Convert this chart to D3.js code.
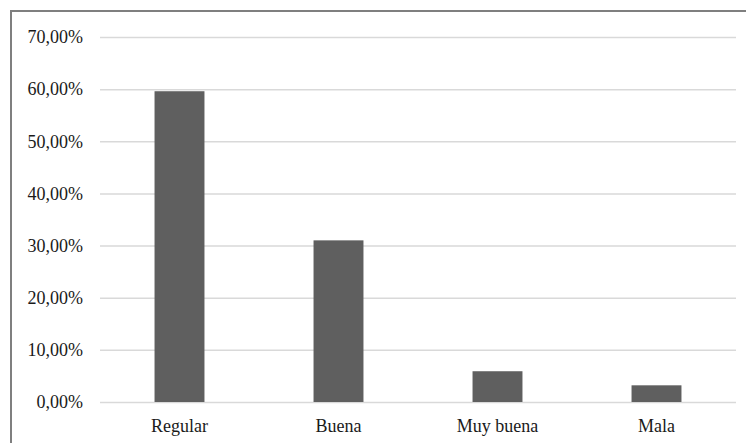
<!DOCTYPE html>
<html><head><meta charset="utf-8">
<script src="https://cdn.jsdelivr.net/npm/d3@7"></script>
<style>html,body{margin:0;padding:0;background:#fff;overflow:hidden}</style>
</head><body>
<svg id="chart" width="746" height="443"></svg>
<script>
const categories = ["Regular", "Buena", "Muy buena", "Mala"];
const values = [59.6, 31.0, 5.9, 3.2];
const yTicks = [0, 10, 20, 30, 40, 50, 60, 70];

const svg = d3.select("#chart");
const W = 746, H = 443;
const m = {left: 100, right: 10, top: 37, bottom: 41};

// outer frame (extends past the visible area on right/bottom)
svg.append("rect").attr("x", 11).attr("y", 11).attr("width", W + 20).attr("height", H + 20)
  .attr("fill", "#fff").attr("stroke", "#7f7f7f").attr("stroke-width", 2);

const x = d3.scaleBand().domain(categories).range([m.left, W - m.right]).paddingInner(0.686).paddingOuter(0.343);
const y = d3.scaleLinear().domain([0, 70]).range([H - m.bottom, m.top]);

const fmt = v => d3.format(".2f")(v).replace(".", ",") + "%";

const yAxis = svg.append("g").attr("transform", `translate(${m.left},0)`)
  .call(d3.axisLeft(y).tickValues(yTicks).tickSize(-(W - m.right - m.left)).tickPadding(17).tickFormat(fmt));
yAxis.select(".domain").remove();
yAxis.selectAll(".tick line").attr("stroke", "#d9d9d9").attr("stroke-width", 1.5);
yAxis.selectAll(".tick text").attr("fill", "#1a1a1a").style("font-family", "'Liberation Serif', 'Times New Roman', serif").style("font-size", "18px");

svg.append("g").selectAll("rect").data(values).join("rect")
  .attr("x", (d, i) => x(categories[i]))
  .attr("y", d => y(d))
  .attr("width", x.bandwidth())
  .attr("height", d => y(0) - y(d))
  .attr("fill", "#5f5f5f");

const xAxis = svg.append("g").attr("transform", `translate(0,${y(0)})`)
  .call(d3.axisBottom(x).tickSize(0).tickPadding(17));
xAxis.select(".domain").remove();
xAxis.selectAll(".tick text").attr("fill", "#1a1a1a").style("font-family", "'Liberation Serif', 'Times New Roman', serif").style("font-size", "18px");
</script>
</body></html>
